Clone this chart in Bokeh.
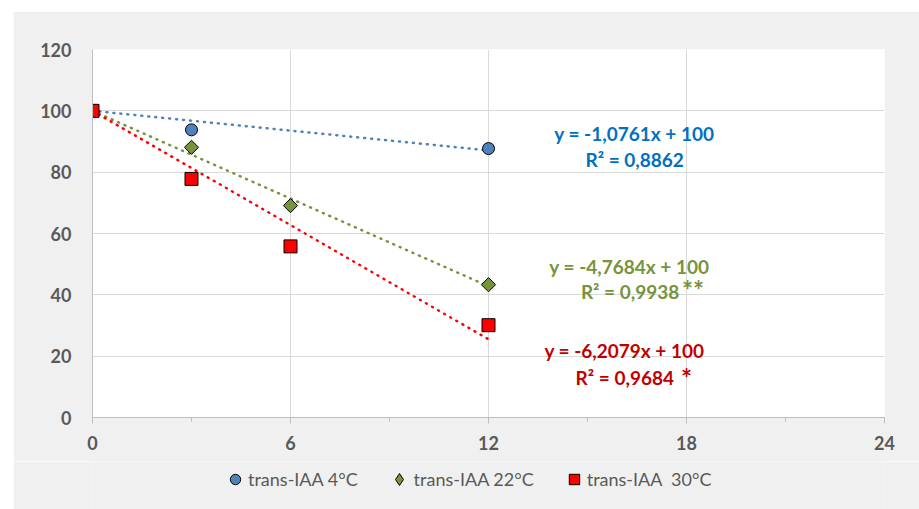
import math
from bokeh.plotting import figure
from bokeh.layouts import column
from bokeh.models import (SingleIntervalTicker, Label, Legend, LegendItem, Range1d)
from bokeh.embed import file_html
from bokeh.resources import INLINE

# ---- data ----
x4 = [0, 3, 12]
y4 = [100, 93.8, 87.7]
x22 = [0, 3, 6, 12]
y22 = [100, 88.1, 69.1, 43.3]
x30 = [0, 3, 6, 12]
y30 = [100, 77.8, 55.8, 30.1]

slopes = [-1.0761, -4.7684, -6.2079]
intercept = 100
r2 = ["0,8862", "0,9938", "0,9684"]
trend_x = [0, 12]
series_names = ["trans-IAA 4°C", "trans-IAA 22°C", "trans-IAA  30°C"]
x_ticks_interval = 6
y_ticks_interval = 20

BLUE_M = "#4F81BD"
GREEN_M = "#77933C"
RED_M = "#FF0000"
BLUE_T = "#0070C0"
GREEN_T = "#77933C"
RED_T = "#C00000"
GRAY = "#595959"
BG = "#F0F0F0"
FONT = "Lato"

p = figure(width=906, height=450, output_backend="svg", toolbar_location=None,
           x_range=Range1d(0, 24), y_range=Range1d(0, 120),
           min_border_left=79, min_border_right=35, min_border_top=38, min_border_bottom=44,
           border_fill_color=BG, background_fill_color="white")
p.outline_line_color = None

# axes
p.xaxis.ticker = SingleIntervalTicker(interval=x_ticks_interval, num_minor_ticks=2)
p.yaxis.ticker = SingleIntervalTicker(interval=y_ticks_interval, num_minor_ticks=0)
for ax in (p.xaxis, p.yaxis):
    ax.axis_line_color = "#BFBFBF"
    ax.major_tick_line_color = "#BFBFBF"
    ax.minor_tick_line_color = "#BFBFBF"
    ax.major_label_text_font = FONT
    ax.major_label_text_font_style = "bold"
    ax.major_label_text_font_size = "18px"
    ax.major_label_text_color = GRAY
p.xaxis.major_tick_out = 6
p.xaxis.major_tick_in = 0
p.xaxis.minor_tick_out = 4
p.xaxis.minor_tick_in = 0
p.xaxis.major_label_standoff = 12
p.yaxis.major_tick_out = 0
p.yaxis.major_tick_in = 0
p.yaxis.minor_tick_out = 0
p.yaxis.major_label_standoff = 21

p.grid.grid_line_color = "#D9D9D9"
p.grid.grid_line_width = 1

# trendlines
colors_m = [BLUE_M, GREEN_M, RED_M]
for s, c in zip(slopes, colors_m):
    ty = [s * xx + intercept for xx in trend_x]
    p.line(trend_x, ty, line_color=c, line_width=2.5, line_dash="1 6", line_cap="round")

# markers
r4 = p.scatter(x4, y4, marker="circle", size=12, fill_color=BLUE_M, line_color="black", line_width=1)
r22 = p.scatter(x22, y22, marker="square", angle=math.pi / 4, size=10, fill_color=GREEN_M,
                line_color="black", line_width=1)
r30 = p.scatter(x30, y30, marker="square", size=13, fill_color=RED_M, line_color="black", line_width=1)

# equation labels
def lab(x, y, text, color, size="19px"):
    p.add_layout(Label(x=x, y=y, text=text, text_color=color, text_font=FONT,
                       text_font_style="bold", text_font_size=size,
                       text_align="center", text_baseline="middle"))

def eq(s):
    return f"y = {s:.4f}x + {intercept}".replace(".", ",")

lab(16.42, 92.5, eq(slopes[0]), BLUE_T)
lab(16.43, 84.1, f"R² = {r2[0]}", BLUE_T)
lab(16.27, 49.3, eq(slopes[1]), GREEN_T)
lab(16.29, 41.1, f"R² = {r2[1]}", GREEN_T)
lab(18.2, 41.6, "**", GREEN_T, "26px")
lab(16.12, 21.7, eq(slopes[2]), RED_T)
lab(16.13, 13.2, f"R² = {r2[2]}", RED_T)
lab(18.0, 12.85, "*", RED_T, "26px")

# ---- legend strip (separate figure below the chart; its data lies outside its view) ----
lf = figure(width=906, height=48, output_backend="svg", toolbar_location=None,
            x_range=Range1d(100, 200), y_range=Range1d(1000, 2000),
            x_axis_location=None, y_axis_location=None,
            min_border_left=0, min_border_right=0, min_border_top=0, min_border_bottom=0,
            border_fill_color=BG, background_fill_color=BG)
lf.outline_line_color = None
lf.grid.visible = False
lr4 = lf.scatter(x4, y4, marker="circle", fill_color=BLUE_M, line_color="black", line_width=1)
lr22 = lf.scatter(x22, y22, marker="diamond", fill_color=GREEN_M, line_color="black", line_width=1)
lr30 = lf.scatter(x30, y30, marker="square", fill_color=RED_M, line_color="black", line_width=1)

legend_specs = [(series_names[0], lr4, 130, 17, 26),
                (series_names[1], lr22, 291.6, 15, 30),
                (series_names[2], lr30, 468.7, 17, 26)]
for name, r, lx, ly, gsz in legend_specs:
    lg = Legend(items=[LegendItem(label=name, renderers=[r], index=0)], location=(lx, ly),
                orientation="horizontal", padding=0, margin=0, spacing=0,
                border_line_color=None, background_fill_alpha=0,
                glyph_width=gsz, glyph_height=gsz, label_standoff=0,
                label_text_font=FONT, label_text_font_size="18px", label_text_color=GRAY)
    lf.add_layout(lg, "center")

layout = column(p, lf, spacing=0, margin=(11, 0, 0, 13))

open("out.html", "w").write(file_html(layout, INLINE))
